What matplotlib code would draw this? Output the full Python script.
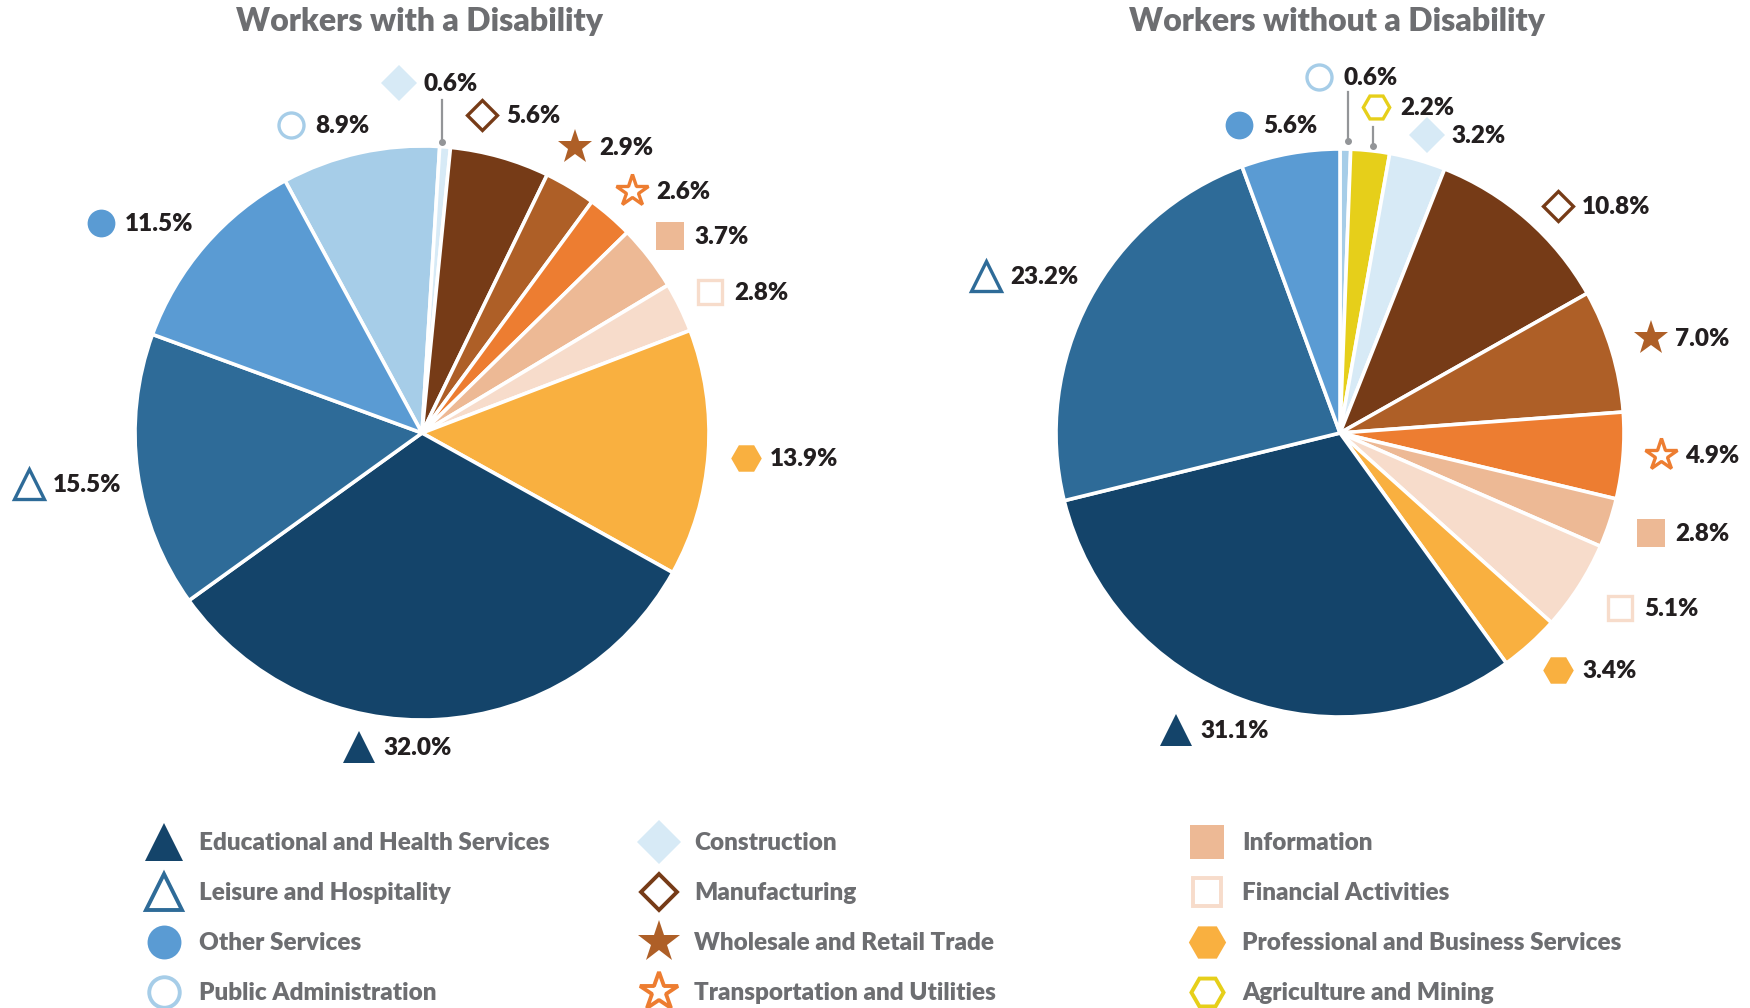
import numpy as np
import matplotlib
matplotlib.use("Agg")
import matplotlib.pyplot as plt

plt.rcParams['font.family'] = ['Lato', 'DejaVu Sans']

# industries (legend order)
categories = ["Educational and Health Services", "Leisure and Hospitality",
              "Other Services", "Public Administration",
              "Construction", "Manufacturing", "Wholesale and Retail Trade",
              "Transportation and Utilities",
              "Information", "Financial Activities",
              "Professional and Business Services", "Agriculture and Mining"]

with_disability = [32.0, 15.5, 11.5, 8.9, 0.6, 5.6, 2.9, 2.6, 3.7, 2.8, 13.9, 0.0]
without_disability = [31.1, 23.2, 5.6, 0.6, 3.2, 10.8, 7.0, 4.9, 2.8, 5.1, 3.4, 2.2]

# order of the slices, clockwise
pie_order = ["Public Administration", "Agriculture and Mining", "Construction",
             "Manufacturing", "Wholesale and Retail Trade",
             "Transportation and Utilities", "Information", "Financial Activities",
             "Professional and Business Services", "Educational and Health Services",
             "Leisure and Hospitality", "Other Services"]

colors = {
    "Educational and Health Services": "#14446a",
    "Leisure and Hospitality": "#2e6b98",
    "Other Services": "#5a9bd3",
    "Public Administration": "#a6cde8",
    "Construction": "#d7eaf6",
    "Manufacturing": "#763b17",
    "Wholesale and Retail Trade": "#ae5f27",
    "Transportation and Utilities": "#ed7d31",
    "Information": "#edb995",
    "Financial Activities": "#f7dccb",
    "Professional and Business Services": "#f9b040",
    "Agriculture and Mining": "#e6cf1a",
}
# marker, filled?, label marker size
markers = {
    "Educational and Health Services": ("^", True, 23),
    "Leisure and Hospitality": ("^", False, 21),
    "Other Services": ("o", True, 20),
    "Public Administration": ("o", False, 18),
    "Construction": ("D", True, 18),
    "Manufacturing": ("D", False, 15),
    "Wholesale and Retail Trade": ("*", True, 26),
    "Transportation and Utilities": ("*", False, 24),
    "Information": ("s", True, 20),
    "Financial Activities": ("s", False, 17),
    "Professional and Business Services": ("H", True, 22),
    "Agriculture and Mining": ("H", False, 19),
}

TEXT = "#231f20"
GRAY = "#6d6e71"

fig = plt.figure(figsize=(17.5, 10.08), dpi=100)
ax = fig.add_axes([0, 0, 1, 1])


def draw_label(cat, x, y, value):
    m, filled, ms = markers[cat]
    c = colors[cat]
    if filled:
        ax.plot(x, y, marker=m, ms=ms, color=c, mec=c, mew=0, zorder=5)
    else:
        ax.plot(x, y, marker=m, ms=ms, mfc="white", mec=c, mew=2.4, zorder=5)
    ax.text(x + 24, y + 1, f"{value:.1f}%", fontsize=17.5, fontweight="heavy",
            color=TEXT, ha="left", va="center")


def draw_pie(values, center, radius, start, title, label_pos, leaders):
    lookup = dict(zip(categories, values))
    cats = [c for c in pie_order if lookup[c] > 0]
    vals = [lookup[c] for c in cats]
    # y axis is flipped, so counterclock in data is clockwise on screen
    ax.pie(vals, colors=[colors[c] for c in cats], center=center, radius=radius,
           startangle=-start, counterclock=True, frame=True,
           wedgeprops=dict(edgecolor="white", linewidth=2.6))
    ax.text(center[0] - 3, 22, title, fontsize=23, fontweight="heavy", color=GRAY,
            ha="center", va="center")
    for c in cats:
        x, y = label_pos[c]
        draw_label(c, x, y, lookup[c])
    for (lx, y0, y1) in leaders:
        ax.plot([lx, lx], [y0, y1], color="#939598", lw=1.6, zorder=4)
        ax.plot(lx, y1, marker="o", ms=4, color="#939598", zorder=4)


left_labels = {
    "Construction": (399, 83),
    "Manufacturing": (482, 115),
    "Wholesale and Retail Trade": (575, 147),
    "Transportation and Utilities": (632, 191),
    "Information": (670, 236),
    "Financial Activities": (710, 292),
    "Professional and Business Services": (746, 458),
    "Educational and Health Services": (359, 747),
    "Leisure and Hospitality": (29, 484),
    "Other Services": (101, 223),
    "Public Administration": (291, 125),
}
right_labels = {
    "Public Administration": (1319, 77),
    "Agriculture and Mining": (1376, 107),
    "Construction": (1427, 135),
    "Manufacturing": (1558, 206),
    "Wholesale and Retail Trade": (1651, 338),
    "Transportation and Utilities": (1661, 455),
    "Information": (1651, 533),
    "Financial Activities": (1620, 608),
    "Professional and Business Services": (1558, 670),
    "Educational and Health Services": (1176, 730),
    "Leisure and Hospitality": (986, 276),
    "Other Services": (1239, 125),
}

draw_pie(with_disability, (422, 433), 287, 118.5, "Workers with a Disability",
         left_labels, [(442, 100, 142)])
draw_pie(without_disability, (1340, 433), 284, 90.0, "Workers without a Disability",
         right_labels, [(1348, 92, 141), (1373, 127, 146)])

# legend, 3 columns of 4
col_x = [164, 659, 1207]
row_y = [842, 892, 942, 992]
for i, cat in enumerate(categories):
    x = col_x[i // 4]
    y = row_y[i % 4]
    m, filled, ms = markers[cat]
    c = colors[cat]
    ms = ms * 1.22
    if filled:
        ax.plot(x, y, marker=m, ms=ms, color=c, mew=0)
    else:
        ax.plot(x, y, marker=m, ms=ms, mfc="white", mec=c, mew=2.8)
    ax.text(x + 35, y + 1, cat, fontsize=17.5, fontweight="heavy", color=GRAY,
            ha="left", va="center")

ax.set_xlim(0, 1750)
ax.set_ylim(1008, 0)
ax.set_aspect("equal")
ax.axis("off")

fig.savefig("out.png", dpi=100)
